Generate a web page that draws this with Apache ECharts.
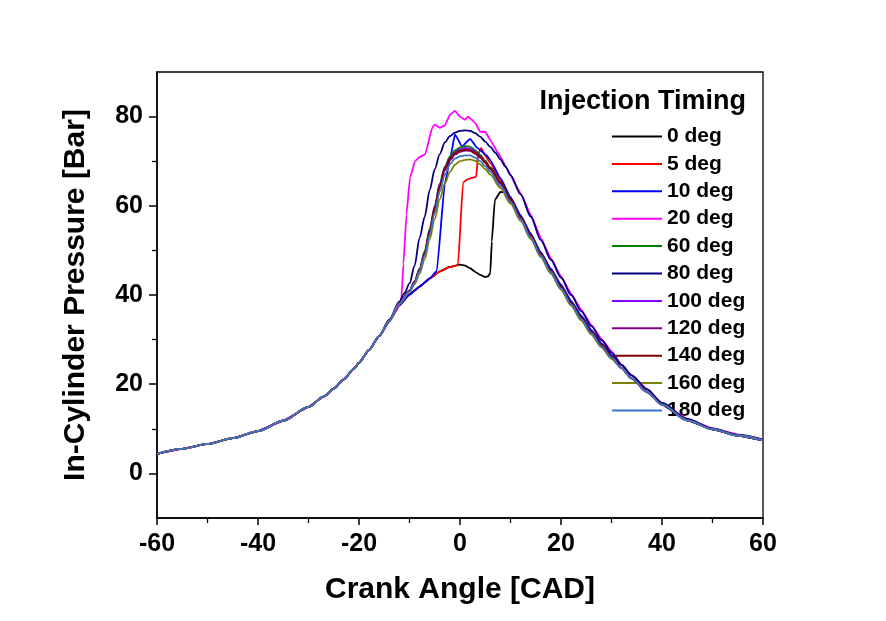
<!DOCTYPE html>
<html>
<head>
<meta charset="utf-8">
<style>html,body{margin:0;padding:0;background:#fff;}#chart{width:886px;height:621px;}</style>
<script src="https://cdn.jsdelivr.net/npm/echarts@6/dist/echarts.min.js"></script>
</head>
<body>
<div id="chart"></div>
<script>
// ---------- data (Crank angle [CAD], pressure [bar]) ----------
const seriesNames = ['0 deg','5 deg','10 deg','20 deg','60 deg','80 deg','100 deg','120 deg','140 deg','160 deg','180 deg'];
const seriesColors = ['#000000','#ff0000','#0000ff','#ff00ff','#008000','#000080','#8000ff','#800080','#800000','#808000','#3b74c4'];
const xTicks = [-60,-40,-20,0,20,40,60];
const yTickLabels = [0,20,40,60,80];
const yMinorTicks = [10,30,50,70];

const headCompression = [[-60,4.4],[-55,5.5],[-50,6.6],[-45,7.9],[-40,9.5],[-35,11.8],[-30,14.9],[-27,17.2],[-25,19.0],[-23,21.1],[-21,23.5],[-20,24.8],[-18,27.7],[-16,30.8]];
const tailExpansion = [[32,23.6],[34,21.3],[37,18.3],[40,15.4],[45,11.9],[50,9.9],[55,8.5],[60,7.4]];
const tailExpansionHigh = [[32,24.3],[34,22.0],[37,18.9],[40,15.8],[45,12.2],[50,10.1],[55,8.7],[60,7.6]];

const mid0 = [[-14,34.1],[-12,37.7],[-10,40.1],[-8,41.9],[-6,43.7],[-4,45.3],[-2,46.3],[0,46.8],[1,46.6],[2,46.0],[3,45.2],[4,44.5],[5,44.0],[5.6,44.2],[6,45.0],[6.3,52.0],[6.9,61.3],[8,63.1],[9,63.0],[10,61.0],[12,57.0],[14,52.9],[16,48.7],[18,45.0],[20,41.4],[22,37.8],[24,34.5],[26,31.3],[28,28.4],[30,25.8]];
const mid5 = [[-14,34.1],[-12,37.7],[-10,40.1],[-8,41.9],[-6,43.7],[-4,45.3],[-2,46.3],[-0.4,46.7],[0.6,65.2],[1.6,66.0],[3.2,66.5],[3.6,71.5],[4.2,73.0],[5,71.2],[6,69.6],[8,65.8],[10,61.6],[12,57.6],[14,53.5],[16,49.3],[18,45.6],[20,42.0],[22,38.4],[24,35.1],[26,31.9],[28,29.0],[30,26.3]];
const mid10 = [[-14,34.1],[-12,37.7],[-10,40.1],[-8,41.9],[-6,43.7],[-4.6,45.4],[-3,65.0],[-1.8,71.5],[-1,76.0],[0.4,73.3],[2,75.0],[3.4,73.0],[5.3,71.3],[6,70.2],[8,66.2],[10,62.0],[12,57.9],[14,53.8],[16,49.6],[18,45.9],[20,42.3],[22,38.7],[24,35.4],[26,32.2],[28,29.2],[30,26.5]];
const mid20 = [[-14,34.2],[-12,37.8],[-11.6,39.4],[-11.2,47.0],[-10.6,58.0],[-9.9,66.3],[-8.9,70.0],[-7.9,71.0],[-6.9,71.5],[-5.5,77.5],[-5,78.2],[-4,77.5],[-3,78.0],[-2,80.4],[-1,81.3],[0,80.0],[1,79.3],[1.6,80.0],[3,78.6],[4,76.6],[5,76.6],[6.3,74.2],[7.5,71.9],[9.5,68.0],[11,64.7],[12,62.8],[14,58.0],[16,52.8],[18,48.2],[20,44.2],[22,40.3],[24,36.7],[26,33.3],[28,30.2],[30,27.4]];
const mid60 = [[-14,34.3],[-12,38.2],[-10,41.0],[-9,43.0],[-8,45.9],[-7,49.8],[-6,54.8],[-5,60.0],[-4,65.0],[-3,68.8],[-2,71.0],[-1,72.4],[0,73.1],[1,73.4],[2,73.2],[3,72.5],[4,71.4],[5,70.1],[6,68.6],[8,65.3],[10,61.4],[12,57.4],[14,53.3],[16,49.1],[18,45.4],[20,41.8],[22,38.2],[24,34.9],[26,31.7],[28,28.8],[30,26.1]];
const mid80 = [[-14,34.5],[-12,38.5],[-11,40.4],[-10,42.6],[-9,46.5],[-8,52.8],[-7,57.5],[-6,63.5],[-5,68.2],[-4,71.6],[-3,74.2],[-2,75.6],[-1,76.4],[0,76.8],[1,76.9],[2,76.8],[3,76.3],[4,75.5],[5,74.4],[6,73.2],[7,71.9],[8,70.4],[9,68.8],[10,66.9],[12,62.6],[14,57.6],[16,52.3],[18,47.9],[20,43.9],[22,40.0],[24,36.4],[26,33.0],[28,29.9],[30,27.1]];
const mid100 = [[-14,34.3],[-12,38.2],[-10,41.0],[-9,43.0],[-8,45.8],[-7,49.5],[-6,54.5],[-5,59.7],[-4,64.8],[-3,68.5],[-2,70.7],[-1,72.0],[0,72.7],[1,73.0],[2,72.8],[3,72.1],[4,71.1],[5,69.8],[6,68.4],[8,65.2],[10,61.3],[12,57.3],[14,53.2],[16,49.0],[18,45.3],[20,41.7],[22,38.1],[24,34.8],[26,31.6],[28,28.7],[30,26.0]];
const mid120 = [[-14,34.3],[-12,38.1],[-10,40.9],[-9,42.8],[-8,45.5],[-7,49.2],[-6,54.0],[-5,59.2],[-4,64.2],[-3,68.0],[-2,70.2],[-1,71.5],[0,72.1],[1,72.4],[2,72.3],[3,71.7],[4,70.8],[5,69.6],[6,68.2],[8,65.0],[10,61.1],[12,57.1],[14,53.0],[16,48.9],[18,45.2],[20,41.6],[22,38.0],[24,34.7],[26,31.5],[28,28.6],[30,25.9]];
const mid140 = [[-14,34.3],[-12,38.2],[-10,41.0],[-9,43.0],[-8,45.7],[-7,49.4],[-6,54.3],[-5,59.5],[-4,64.5],[-3,68.3],[-2,70.5],[-1,71.8],[0,72.4],[1,72.6],[2,72.5],[3,71.9],[4,71.0],[5,69.8],[6,68.4],[8,65.3],[10,61.5],[12,57.5],[14,53.4],[16,49.2],[18,45.5],[20,41.9],[22,38.3],[24,35.0],[26,31.8],[28,28.9],[30,26.2]];
const mid160 = [[-14,34.2],[-12,38.0],[-10,40.6],[-9,42.4],[-8,44.8],[-7,48.0],[-6,52.5],[-5,57.0],[-4,61.5],[-3,65.0],[-2,67.6],[-1,69.2],[0,70.0],[1,70.3],[2,70.4],[3,70.1],[4,69.3],[5,68.2],[6,67.0],[8,64.0],[10,60.5],[12,56.6],[14,52.6],[16,48.5],[18,44.8],[20,41.2],[22,37.6],[24,34.3],[26,31.2],[28,28.3],[30,25.7]];
const mid180 = [[-14,34.2],[-12,38.1],[-10,40.8],[-9,42.7],[-8,45.3],[-7,48.8],[-6,53.4],[-5,58.4],[-4,63.2],[-3,67.0],[-2,69.3],[-1,70.6],[0,71.1],[1,71.3],[2,71.3],[3,70.8],[4,70.0],[5,68.9],[6,67.6],[8,64.5],[10,60.9],[12,57.0],[14,52.9],[16,48.8],[18,45.1],[20,41.5],[22,37.9],[24,34.6],[26,31.4],[28,28.5],[30,25.9]];

const midParts = [mid0, mid5, mid10, mid20, mid60, mid80, mid100, mid120, mid140, mid160, mid180];
const highTail = [false,false,false,true,false,true,false,false,false,false,false];
const smoothAmount = [0.12,0.12,0.12,0.1,0.3,0.3,0.3,0.3,0.3,0.3,0.3];

// ---------- chart ----------
const FONT = '"Liberation Sans", Arial, Helvetica, sans-serif';
const chart = echarts.init(document.getElementById('chart'), null, {renderer: 'canvas'});

const series = seriesNames.map((name, i) => ({
  name: name,
  type: 'line',
  data: headCompression.concat(midParts[i], highTail[i] ? tailExpansionHigh : tailExpansion),
  showSymbol: false,
  symbol: 'none',
  smooth: smoothAmount[i],
  smoothMonotone: 'x',
  lineStyle: {color: seriesColors[i], width: 1.8},
  itemStyle: {color: seriesColors[i]},
  color: seriesColors[i],
  z: 2 + i
}));

chart.setOption({
  animation: false,
  backgroundColor: '#ffffff',
  title: {
    text: 'Injection Timing',
    right: 140,
    top: 88,
    padding: 0,
    textStyle: {fontFamily: FONT, fontWeight: 'bold', fontSize: 27, color: '#000'}
  },
  legend: {
    data: seriesNames,
    orient: 'vertical',
    left: 612,
    top: 126,
    padding: 0,
    icon: 'rect',
    itemWidth: 50,
    itemHeight: 2,
    itemGap: 6.4,
    textStyle: {fontFamily: FONT, fontWeight: 'bold', fontSize: 21, color: '#000'},
    selectedMode: false
  },
  grid: {
    left: 157, right: 123, top: 72, bottom: 103,
    show: true, borderColor: '#000', borderWidth: 1.3, backgroundColor: 'transparent'
  },
  xAxis: {
    type: 'value',
    min: -60, max: 60, interval: 20,
    name: 'Crank Angle [CAD]',
    nameLocation: 'middle',
    nameGap: 57,
    nameTextStyle: {fontFamily: FONT, fontWeight: 'bold', fontSize: 30, color: '#000'},
    axisLine: {show: true, onZero: false, lineStyle: {color: '#000', width: 1.5}},
    axisTick: {show: true, length: 7, inside: false, lineStyle: {color: '#000', width: 1.5}},
    minorTick: {show: true, splitNumber: 2, length: 5, lineStyle: {color: '#000', width: 1.3}},
    axisLabel: {fontFamily: FONT, fontWeight: 'bold', fontSize: 25, color: '#000', margin: 14,
      customValues: xTicks},
    splitLine: {show: false},
    minorSplitLine: {show: false}
  },
  yAxis: [{
    type: 'value',
    min: -10, max: 90,
    name: 'In-Cylinder Pressure [Bar]',
    nameLocation: 'middle',
    nameGap: 66,
    nameRotate: 90,
    nameTextStyle: {fontFamily: FONT, fontWeight: 'bold', fontSize: 30, color: '#000'},
    axisLine: {show: true, onZero: false, lineStyle: {color: '#000', width: 1.5}},
    axisTick: {show: true, length: 8, inside: false, customValues: yTickLabels, lineStyle: {color: '#000', width: 1.5}},
    axisLabel: {fontFamily: FONT, fontWeight: 'bold', fontSize: 25, color: '#000', margin: 14,
      customValues: yTickLabels},
    splitLine: {show: false}
  }, {
    type: 'value',
    min: -10, max: 90,
    position: 'left',
    offset: 0,
    axisLine: {show: false, onZero: false},
    axisTick: {show: true, length: 5, inside: false, customValues: yMinorTicks, lineStyle: {color: '#000', width: 1.3}},
    axisLabel: {show: false},
    splitLine: {show: false}
  }],
  series: series
});
</script>
</body>
</html>
